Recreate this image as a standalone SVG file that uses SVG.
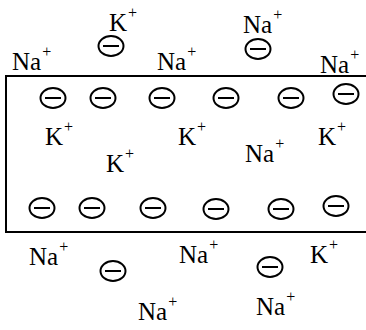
<svg xmlns="http://www.w3.org/2000/svg" width="366" height="330" viewBox="0 0 366 330">
<style>
text{font-family:'Liberation Serif','Times New Roman','DejaVu Serif',serif;font-size:25px;fill:#000}
tspan.s{font-size:16px}
.c ellipse{fill:#fff;stroke:#000;stroke-width:2}
.c line{stroke:#000;stroke-width:2}
.m{fill:none;stroke:#000;stroke-width:2}
</style>
<defs>
<g id="neg" class="c"><ellipse cx="0" cy="0" rx="12.5" ry="10"/><line x1="-8" y1="0" x2="8" y2="0"/></g>
</defs>
<g id="membrane"><path class="m" d="M366,76 H6 V232 H366"/></g>
<g id="ions-outside-top">
<text x="109" y="31">K<tspan class="s" dx="1" dy="-13">+</tspan></text>
<text x="12" y="70">Na<tspan class="s" dx="1" dy="-13">+</tspan></text>
<text x="157" y="70">Na<tspan class="s" dx="1" dy="-13">+</tspan></text>
<text x="243" y="33">Na<tspan class="s" dx="1" dy="-13">+</tspan></text>
<text x="320" y="73">Na<tspan class="s" dx="1" dy="-13">+</tspan></text>
<use href="#neg" x="111" y="46"/>
<use href="#neg" x="258" y="49"/>
</g>
<g id="charges-top">
<use href="#neg" x="53" y="98"/>
<use href="#neg" x="103" y="98"/>
<use href="#neg" x="162" y="98"/>
<use href="#neg" x="226" y="98"/>
<use href="#neg" x="291" y="98"/>
<use href="#neg" x="346" y="94"/>
</g>
<g id="ions-inside">
<text x="45" y="145">K<tspan class="s" dx="1" dy="-13">+</tspan></text>
<text x="106" y="172">K<tspan class="s" dx="1" dy="-13">+</tspan></text>
<text x="178" y="145">K<tspan class="s" dx="1" dy="-13">+</tspan></text>
<text x="245" y="162">Na<tspan class="s" dx="1" dy="-13">+</tspan></text>
<text x="318" y="145">K<tspan class="s" dx="1" dy="-13">+</tspan></text>
</g>
<g id="charges-bottom">
<use href="#neg" x="42" y="208"/>
<use href="#neg" x="92" y="208"/>
<use href="#neg" x="153" y="208"/>
<use href="#neg" x="216" y="209"/>
<use href="#neg" x="281" y="209"/>
<use href="#neg" x="336" y="206"/>
</g>
<g id="ions-outside-bottom">
<text x="29" y="265">Na<tspan class="s" dx="1" dy="-13">+</tspan></text>
<text x="179" y="263">Na<tspan class="s" dx="1" dy="-13">+</tspan></text>
<text x="310" y="263">K<tspan class="s" dx="1" dy="-13">+</tspan></text>
<text x="138" y="320">Na<tspan class="s" dx="1" dy="-13">+</tspan></text>
<text x="256" y="315">Na<tspan class="s" dx="1" dy="-13">+</tspan></text>
<use href="#neg" x="113" y="271"/>
<use href="#neg" x="270" y="267"/>
</g>
</svg>
